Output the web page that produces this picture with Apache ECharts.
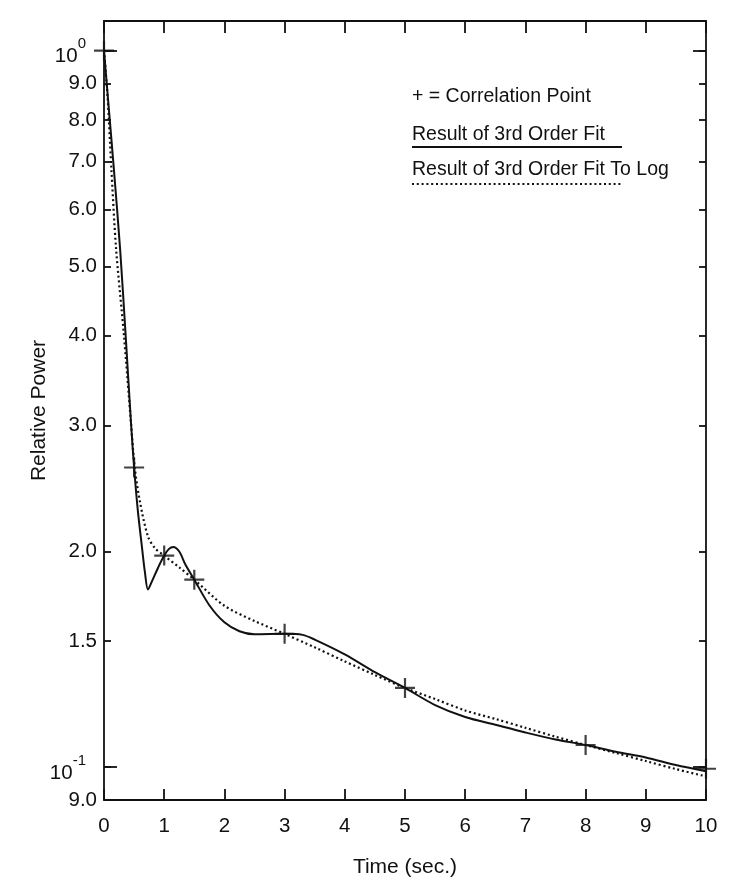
<!DOCTYPE html>
<html>
<head>
<meta charset="utf-8">
<script src="https://cdn.jsdelivr.net/npm/echarts@6/dist/echarts.min.js"></script>
<style>html,body{margin:0;padding:0;background:#fff;}#c{width:750px;height:895px;}</style>
</head>
<body>
<div id="c"></div>
<script>
// ---- data ----
var solidT = [0, 0.08, 0.16, 0.27, 0.36, 0.45, 0.5, 0.56, 0.63, 0.68, 0.73, 0.8, 0.9, 1.0, 1.08, 1.15, 1.25, 1.35, 1.5, 1.75, 2.0, 2.25, 2.5, 3.0, 3.3, 3.5, 4.0, 4.5, 5.0, 5.5, 6.0, 6.5, 7.0, 7.5, 8.0, 8.5, 9.0, 9.5, 10];
var solidV = [1.0, 0.83, 0.69, 0.525, 0.40, 0.301, 0.262, 0.229, 0.203, 0.187, 0.177, 0.182, 0.190, 0.1974, 0.2017, 0.203, 0.200, 0.192, 0.1827, 0.1683, 0.1593, 0.1548, 0.1533, 0.1535, 0.153, 0.1507, 0.1437, 0.1357, 0.129, 0.1221, 0.1175, 0.1146, 0.1118, 0.1093, 0.1074, 0.1051, 0.1032, 0.1007, 0.0987];
var dottedT = [0, 0.06, 0.12, 0.2, 0.33, 0.45, 0.51, 0.6, 0.73, 0.85, 1.0, 1.25, 1.5, 2.0, 2.5, 3.0, 3.5, 4.0, 4.5, 5.0, 5.5, 6.0, 6.5, 7.0, 7.5, 8.0, 8.5, 9.0, 9.5, 10];
var dottedV = [1.0, 0.86, 0.69, 0.53, 0.402, 0.301, 0.262, 0.234, 0.210, 0.202, 0.1974, 0.190, 0.1827, 0.168, 0.160, 0.1535, 0.147, 0.1405, 0.1345, 0.129, 0.1245, 0.120, 0.1168, 0.1135, 0.1103, 0.1074, 0.1047, 0.1020, 0.0994, 0.0971];
var corrT = [0, 0.5, 1.0, 1.5, 3.0, 5.0, 8.0, 10.0];
var corrV = [1.0, 0.262, 0.1974, 0.1827, 0.1535, 0.129, 0.1074, 0.0995];
var yTickValues = [0.09, 0.1, 0.15, 0.2, 0.3, 0.4, 0.5, 0.6, 0.7, 0.8, 0.9, 1.0];
var yTickLabels = ['9.0', '10^-1', '1.5', '2.0', '3.0', '4.0', '5.0', '6.0', '7.0', '8.0', '9.0', '10^0'];
var yMajorValues = [0.1, 1.0];
var xTicks = [0, 1, 2, 3, 4, 5, 6, 7, 8, 9, 10];

function zip(a, b) { return a.map(function (v, i) { return [v, b[i]]; }); }
var FONT = "'Liberation Sans', Arial, Helvetica, sans-serif";
var INK = '#111';

function yLabel(value) {
  for (var i = 0; i < yTickValues.length; i++) {
    if (Math.abs(yTickValues[i] - value) < 1e-6) {
      var s = yTickLabels[i];
      if (s.indexOf('^') >= 0) {
        var p = s.split('^');
        return '{b|' + p[0] + '}{s|' + p[1] + '}';
      }
      return s;
    }
  }
  return '';
}

var chart = echarts.init(document.getElementById('c'));
var baseY = {
  type: 'log', logBase: 10, min: 0.09, max: 1.1,
  splitLine: { show: false }, minorTick: { show: false }, minorSplitLine: { show: false }
};
function yAxisCfg(pos, ticks, len, showLabel, showLine) {
  return Object.assign({}, baseY, {
    position: pos,
    axisLine: { show: showLine, lineStyle: { color: INK, width: 1.8 } },
    axisTick: { show: true, inside: true, length: len, customValues: ticks, lineStyle: { color: INK, width: 1.8 } },
    axisLabel: showLabel ? {
      show: true, customValues: yTickValues, margin: 7, formatter: yLabel,
      color: INK, fontSize: 20.5, fontFamily: FONT,
      rich: {
        b: { fontSize: 20.5, lineHeight: 20, fontFamily: FONT, color: INK, padding: [12, 0, 0, 0] },
        s: { fontSize: 15, lineHeight: 15, fontFamily: FONT, color: INK, padding: [2, 11, 15, 0] }
      }
    } : { show: false },
    name: showLabel ? 'Relative Power' : '',
    nameLocation: 'middle', nameGap: 54, nameRotate: 90, nameMoveOverlap: false,
    nameTextStyle: { color: INK, fontSize: 21, fontFamily: FONT }
  });
}

chart.setOption({
  animation: false,
  backgroundColor: '#fff',
  grid: { left: 104, right: 44, top: 21, bottom: 95, containLabel: false },
  xAxis: [{
    type: 'value', position: 'bottom', min: 0, max: 10, interval: 1,
    axisLine: { show: true, lineStyle: { color: INK, width: 1.8 } },
    axisTick: { show: true, inside: true, length: 11, lineStyle: { color: INK, width: 1.8 } },
    axisLabel: { show: true, margin: 16, color: INK, fontSize: 20.5, fontFamily: FONT, customValues: xTicks },
    splitLine: { show: false },
    name: 'Time (sec.)', nameLocation: 'middle', nameGap: 57,
    nameTextStyle: { color: INK, fontSize: 21, fontFamily: FONT }
  }, {
    type: 'value', position: 'top', min: 0, max: 10, interval: 1,
    axisLine: { show: true, lineStyle: { color: INK, width: 1.8 } },
    axisTick: { show: true, inside: true, length: 12, lineStyle: { color: INK, width: 1.8 } },
    axisLabel: { show: false }, splitLine: { show: false }
  }],
  yAxis: [
    yAxisCfg('left', yTickValues, 7, true, true),
    yAxisCfg('left', yMajorValues, 13, false, false),
    yAxisCfg('right', yTickValues, 7, false, true),
    yAxisCfg('right', yMajorValues, 13, false, false)
  ],
  series: [{
    name: 'Result of 3rd Order Fit', type: 'line', data: zip(solidT, solidV),
    smooth: 0.3, showSymbol: false, symbol: 'none',
    lineStyle: { color: INK, width: 2 }, z: 3
  }, {
    name: 'Result of 3rd Order Fit To Log', type: 'line', data: zip(dottedT, dottedV),
    smooth: 0.3, showSymbol: false, symbol: 'none',
    lineStyle: { color: INK, width: 2.2, type: [2, 2.8] }, z: 2
  }, {
    name: 'Correlation Point', type: 'scatter', data: zip(corrT, corrV),
    symbol: 'path://M0,8.9h20v2.2h-20z M8.9,0h2.2v20h-2.2z', symbolSize: 20,
    itemStyle: { color: INK }, z: 4, clip: false
  }],
  graphic: [
    { type: 'text', left: 412, top: 87, style: { text: '+ = Correlation Point', fontSize: 19.5, fontFamily: FONT, fill: INK } },
    { type: 'text', left: 412, top: 125, style: { text: 'Result of 3rd Order Fit', fontSize: 19.5, fontFamily: FONT, fill: INK } },
    { type: 'line', shape: { x1: 412, y1: 147, x2: 622, y2: 147 }, style: { stroke: INK, lineWidth: 2 } },
    { type: 'text', left: 412, top: 160, style: { text: 'Result of 3rd Order Fit To Log', fontSize: 19.5, fontFamily: FONT, fill: INK } },
    { type: 'line', shape: { x1: 412, y1: 184, x2: 622, y2: 184 }, style: { stroke: INK, lineWidth: 2.2, lineDash: [2, 2.8] } }
  ]
});
</script>
</body>
</html>
